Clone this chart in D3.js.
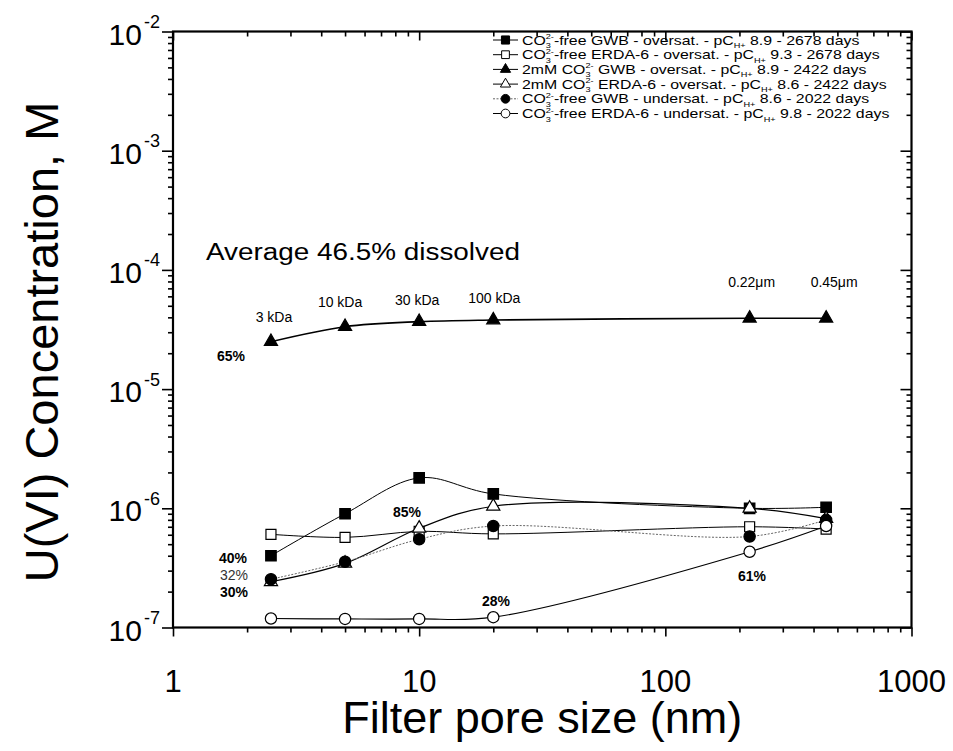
<!DOCTYPE html>
<html>
<head>
<meta charset="utf-8">
<script src="https://cdn.jsdelivr.net/npm/d3@7"></script>
<style>
    body { margin: 0; background: #fff; }
    svg { display: block; font-family: "Liberation Sans", Arial, sans-serif; }
</style>
</head>
<body>
<div id="chart"></div>
<script>
// filter pore sizes, nm (3 kDa, 10 kDa, 30 kDa, 100 kDa, 0.22 um, 0.45 um)
const poreSize = [2.5, 5, 10, 20, 220, 450]

// U(VI) concentration, M
const gwbFreeOver   = [4.0e-7, 9.0e-7, 1.8e-6, 1.32e-6, 1.0e-6, 1.02e-6]
const erdaFreeOver  = [6.05e-7, 5.7e-7, 6.4e-7, 6.1e-7, 7.0e-7, 6.7e-7]
const gwb2mMOver    = [2.5e-5, 3.34e-5, 3.68e-5, 3.8e-5, 3.93e-5, 3.93e-5]
const erda2mMOver   = [2.42e-7, 3.45e-7, 6.8e-7, 1.04e-6, 1.0e-6, 8.2e-7]
const gwbFreeUnder  = [2.54e-7, 3.56e-7, 5.5e-7, 7.1e-7, 5.8e-7, 8.0e-7]
const erdaFreeUnder = [1.19e-7, 1.18e-7, 1.18e-7, 1.22e-7, 4.32e-7, 7.1e-7]

const xTicks = [1, 10, 100, 1000]
const yTicks = [1e-7, 1e-6, 1e-5, 1e-4, 1e-3, 1e-2]
const yTickExp = ["-7", "-6", "-5", "-4", "-3", "-2"]

// legend text: before CO3, after CO3, pC(H+) value and days
const legendPre  = ["", "", "2mM ", "2mM ", "", ""]
const legendMid  = ["-free GWB - oversat. - pC", "-free ERDA-6 - oversat. - pC",
                    " GWB - oversat. - pC", " ERDA-6 - oversat. - pC",
                    "-free GWB - undersat. - pC", "-free ERDA-6 - undersat. - pC"]
const legendTail = [" 8.9 - 2678 days", " 9.3 - 2678 days", " 8.9 - 2422 days",
                    " 8.6 - 2422 days", " 8.6 - 2022 days", " 9.8 - 2022 days"]

const filterLabels = ["3 kDa", "10 kDa", "30 kDa", "100 kDa", "0.22\u03bcm", "0.45\u03bcm"]

const W = 953, H = 751
const margin = {top: 31.5, right: 41.5, bottom: 123.5, left: 173}

const x = d3.scaleLog().domain([1, 1000]).range([margin.left, W - margin.right])
const y = d3.scaleLog().domain([1e-7, 1e-2]).range([H - margin.bottom, margin.top])

const svg = d3.select("#chart").append("svg")
    .attr("width", W)
    .attr("height", H)

const minor = (lo, hi) => {
    const out = []
    for (let d = lo; d < hi; d *= 10)
        for (let m = 2; m <= 9; m++) out.push(d * m)
    return out
}
const xMinor = minor(1, 1000)
const yMinor = minor(1e-7, 1e-2)

/* AXES (ticks only, frame drawn after) */
function ticks(axis, transform) {
    const g = svg.append("g").attr("transform", transform).call(axis)
    g.select(".domain").remove()
    g.selectAll("line").attr("stroke", "#000").attr("stroke-width", 1.6)
    return g
}
const plotBottom = H - margin.bottom, plotTop = margin.top
const plotLeft = margin.left, plotRight = W - margin.right

ticks(d3.axisBottom(x).tickValues(xTicks).tickSize(9).tickFormat(""), `translate(0,${plotBottom})`)
ticks(d3.axisBottom(x).tickValues(xMinor).tickSize(5).tickFormat(""), `translate(0,${plotBottom})`)
ticks(d3.axisBottom(x).tickValues(xTicks).tickSize(9).tickFormat(""), `translate(0,${plotTop})`)
ticks(d3.axisBottom(x).tickValues(xMinor).tickSize(5).tickFormat(""), `translate(0,${plotTop})`)
ticks(d3.axisLeft(y).tickValues(yTicks).tickSize(11).tickFormat(""), `translate(${plotLeft},0)`)
ticks(d3.axisLeft(y).tickValues(yMinor).tickSize(5).tickFormat(""), `translate(${plotLeft},0)`)
ticks(d3.axisLeft(y).tickValues(yTicks).tickSize(11).tickFormat(""), `translate(${plotRight},0)`)
ticks(d3.axisLeft(y).tickValues(yMinor).tickSize(5).tickFormat(""), `translate(${plotRight},0)`)

svg.append("rect")
    .attr("x", plotLeft).attr("y", plotTop)
    .attr("width", plotRight - plotLeft).attr("height", plotBottom - plotTop)
    .attr("fill", "none").attr("stroke", "#000").attr("stroke-width", 2.2)

// tick labels
svg.append("g").selectAll("text")
    .data(xTicks)
    .join("text")
    .attr("x", d => x(d))
    .attr("y", plotBottom + 64)
    .attr("text-anchor", "middle")
    .attr("font-size", 31)
    .text(d => d)

const yl = svg.append("g").selectAll("text")
    .data(yTicks)
    .join("text")
    .attr("x", plotLeft - 13)
    .attr("y", d => y(d) + 13)
    .attr("text-anchor", "end")
    .attr("font-size", 30)
yl.append("tspan").text("10")
yl.append("tspan").attr("font-size", 18).attr("dx", 2).attr("dy", -16.5).text((d, i) => yTickExp[i])

// axis titles
svg.append("text")
    .attr("x", (plotLeft + plotRight) / 2)
    .attr("y", 733)
    .attr("text-anchor", "middle")
    .attr("font-size", 45)
    .text("Filter pore size (nm)")

svg.append("text")
    .attr("transform", `translate(58,342) rotate(-90)`)
    .attr("text-anchor", "middle")
    .attr("font-size", 47)
    .text("U(VI) Concentration, M")

/* SERIES */
const series = [
    {values: gwbFreeOver,   shape: d3.symbolSquare,   filled: true,  size: 110, stroke: "#000", dash: null, lw: 1},
    {values: erdaFreeOver,  shape: d3.symbolSquare,   filled: false, size: 100, stroke: "#000", dash: null, lw: 1},
    {values: gwb2mMOver,    shape: d3.symbolTriangle, filled: true,  size: 75,  stroke: "#000", dash: null, lw: 1.6},
    {values: erda2mMOver,   shape: d3.symbolTriangle, filled: false, size: 75,  stroke: "#000", dash: null, lw: 1.2},
    {values: gwbFreeUnder,  shape: d3.symbolCircle,   filled: true,  size: 100, stroke: "#666", dash: "2,1.5", lw: 1},
    {values: erdaFreeUnder, shape: d3.symbolCircle,   filled: false, size: 100, stroke: "#000", dash: null, lw: 1.2},
]

const line = d3.line()
    .x((d, i) => x(poreSize[i]))
    .y(d => y(d))
    .curve(d3.curveCatmullRom.alpha(0.5))

svg.append("g").selectAll("path")
    .data(series)
    .join("path")
    .attr("d", s => line(s.values))
    .attr("fill", "none")
    .attr("stroke", s => s.stroke)
    .attr("stroke-width", s => s.lw)
    .attr("stroke-dasharray", s => s.dash)

series.forEach(s => {
    svg.append("g").selectAll("path")
        .data(s.values)
        .join("path")
        .attr("transform", (d, i) => `translate(${x(poreSize[i])},${y(d)})`)
        .attr("d", d3.symbol(s.shape, s.size))
        .attr("fill", s.filled ? "#000" : "#fff")
        .attr("stroke", "#000")
        .attr("stroke-width", 1.2)
})

/* LEGEND */
const legend = svg.append("g")
series.forEach((s, i) => {
    const ly = 40 + i * 14.7
    legend.append("line")
        .attr("x1", 493).attr("x2", 518)
        .attr("y1", ly).attr("y2", ly)
        .attr("stroke", s.stroke)
        .attr("stroke-width", 1)
        .attr("stroke-dasharray", s.dash)
    legend.append("path")
        .attr("transform", `translate(505.5,${ly})`)
        .attr("d", d3.symbol(s.shape, s.size * 0.6))
        .attr("fill", s.filled ? "#000" : "#fff")
        .attr("stroke", "#000")
        .attr("stroke-width", 1)

    const t = legend.append("text")
        .attr("transform", `translate(522,${ly + 4.5}) scale(1.22,1)`)
        .attr("font-size", 13)
    t.append("tspan").text(legendPre[i] + "CO")
    t.append("tspan").attr("font-size", 7.5).attr("dy", 3.5).text("3")
    t.append("tspan").attr("font-size", 7.5).attr("dx", -4.2).attr("dy", -9).text("2-")
    t.append("tspan").attr("dy", 5.5).text(legendMid[i])
    t.append("tspan").attr("font-size", 7.5).attr("dy", 3.5).text("H+")
    t.append("tspan").attr("dy", -3.5).text(legendTail[i])
})

/* ANNOTATIONS */
svg.append("text")
    .attr("x", 206).attr("y", 260)
    .attr("font-size", 23)
    .attr("textLength", 314)
    .attr("lengthAdjust", "spacingAndGlyphs")
    .text("Average 46.5% dissolved")

const filterY = [322, 307, 305, 303, 287, 287]
const filterDx = [3, -5, -2, 1, 2, 8]
svg.append("g").selectAll("text")
    .data(filterLabels)
    .join("text")
    .attr("x", (d, i) => x(poreSize[i]) + filterDx[i])
    .attr("y", (d, i) => filterY[i])
    .attr("text-anchor", "middle")
    .attr("font-size", 14)
    .text(d => d)

const pct = [
    {t: "65%", x: 231, y: 361, bold: true},
    {t: "40%", x: 233, y: 563, bold: true},
    {t: "32%", x: 234, y: 580, bold: false},
    {t: "30%", x: 234, y: 597, bold: true},
    {t: "85%", x: 407, y: 517, bold: true},
    {t: "28%", x: 496, y: 606, bold: true},
    {t: "61%", x: 752, y: 581, bold: true},
]
svg.append("g").selectAll("text")
    .data(pct)
    .join("text")
    .attr("x", d => d.x).attr("y", d => d.y)
    .attr("text-anchor", "middle")
    .attr("font-size", 14)
    .attr("font-weight", d => d.bold ? "bold" : "normal")
    .attr("fill", d => d.bold ? "#000" : "#333")
    .text(d => d.t)
</script>
</body>
</html>
